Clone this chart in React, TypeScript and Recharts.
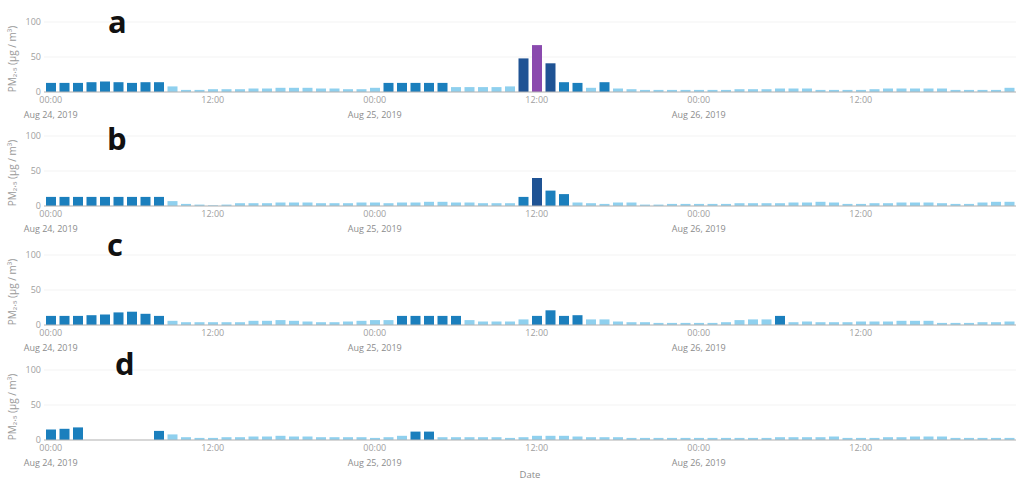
import React from 'react';
import { Bar, BarChart, CartesianGrid, Cell, XAxis, YAxis } from 'recharts';

// hourly categories, Aug 24 00:00 .. Aug 26 23:00
const hours = Array.from({ length: 72 }, (_, i) => i);
const timeLabels = ['00:00', '12:00'];
const dayLabels = ['Aug 24, 2019', 'Aug 25, 2019', 'Aug 26, 2019'];
const yTicks = [0, 50, 100];

const pmA = [
  13, 13, 13, 14, 15, 14, 13, 14, 14, 8, 3, 3, 4, 4, 4, 5, 5, 6, 6, 6, 5, 5, 4, 4,
  6, 13, 13, 13, 13, 13, 7, 7, 7, 7, 8, 48, 67, 41, 14, 13, 6, 14, 5, 4, 3, 3, 3, 3,
  3, 3, 3, 4, 4, 4, 5, 5, 5, 3, 3, 3, 3, 4, 5, 5, 5, 5, 5, 3, 3, 3, 3, 6,
];
const pmB = [
  13, 13, 13, 13, 13, 13, 13, 13, 13, 7, 3, 2, 1, 2, 4, 4, 4, 5, 5, 5, 4, 4, 4, 5,
  5, 4, 5, 5, 6, 6, 5, 5, 4, 4, 4, 13, 40, 22, 17, 5, 4, 3, 5, 5, 2, 2, 3, 3,
  3, 3, 3, 4, 4, 4, 4, 5, 5, 6, 5, 3, 3, 4, 4, 5, 5, 5, 4, 3, 3, 5, 6, 6,
];
const pmC = [
  13, 13, 13, 14, 15, 18, 19, 16, 13, 6, 4, 4, 4, 4, 4, 6, 6, 7, 6, 5, 4, 4, 5, 6,
  7, 7, 13, 13, 13, 13, 13, 7, 5, 5, 5, 8, 13, 21, 13, 14, 8, 8, 5, 4, 4, 3, 3, 3,
  3, 3, 4, 7, 8, 8, 13, 4, 5, 4, 4, 4, 5, 5, 5, 6, 6, 6, 3, 3, 3, 4, 4, 5,
];
const pmD = [
  15, 16, 18, null, null, null, null, null, 13, 8, 4, 3, 3, 4, 4, 5, 5, 6, 5, 5, 4, 4, 4, 4,
  3, 4, 6, 12, 12, 4, 4, 4, 4, 4, 3, 4, 6, 6, 6, 5, 4, 4, 4, 3, 3, 3, 3, 3,
  3, 3, 3, 3, 3, 3, 4, 4, 4, 4, 5, 3, 3, 3, 4, 4, 5, 5, 5, 3, 3, 3, 3, 3,
];

const panels = [
  { letter: 'a', values: pmA, top: 12, lx: 108, ly: 33 },
  { letter: 'b', values: pmB, top: 126, lx: 107, ly: 150 },
  { letter: 'c', values: pmC, top: 245, lx: 107, ly: 256 },
  { letter: 'd', values: pmD, top: 360, lx: 115, ly: 375 },
];

const FONT = '"Open Sans", "Noto Sans", sans-serif';

function barColor(v: number | null) {
  if (v == null) return 'transparent';
  if (v > 55) return '#8a4aae';
  if (v > 35) return '#1f5394';
  if (v >= 12) return '#1b7fbd';
  return '#8fd0ee';
}

function TimeTick({ x, y, payload }: any) {
  const h = payload.value as number;
  const time = timeLabels[Math.floor(h / 12) % 2];
  const day = h % 24 === 0 ? dayLabels[h / 24] : null;
  return (
    <g transform={`translate(${x},${y})`}>
      <text y={11} textAnchor="middle" fill="#a0a0a0" fontSize={9} fontFamily={FONT}>
        {time}
      </text>
      {day && (
        <text y={26} textAnchor="middle" fill="#8c8c8c" fontSize={9} fontFamily={FONT}>
          {day}
        </text>
      )}
    </g>
  );
}

function YLabel({ viewBox }: any) {
  const cy = viewBox.y + viewBox.height / 2 + 2;
  return (
    <text
      transform={`translate(12,${cy}) rotate(-90)`}
      textAnchor="middle"
      dominantBaseline="central"
      fill="#9a9a9a"
      fontSize={10}
      fontFamily={FONT}
    >
      PM₂.₅ (μg / m³)
    </text>
  );
}

function Panel({ values, top }: { values: (number | null)[]; top: number }) {
  const data = hours.map((h, i) => ({ hour: h, pm: values[i] }));
  return (
    <div style={{ position: 'absolute', left: 0, top }}>
      <BarChart width={1016} height={115} data={data} margin={{ top: 10, right: 0, left: 0, bottom: 0 }}>
        <CartesianGrid vertical={false} stroke="#f3f3f3" />
        <XAxis
          dataKey="hour"
          interval={11}
          tickLine={false}
          tickSize={0}
          tickMargin={0}
          height={35}
          stroke="#b5b5b5"
          tick={<TimeTick />}
        />
        <YAxis
          domain={[0, 100]}
          ticks={yTicks}
          width={44}
          axisLine={false}
          tickLine={false}
          tickSize={0}
          tickMargin={3}
          tick={{ fill: '#a0a0a0', fontSize: 9, fontFamily: FONT }}
          label={{ content: <YLabel /> }}
        />
        <Bar dataKey="pm" barSize={10} isAnimationActive={false}>
          {data.map((d, i) => (
            <Cell key={i} fill={barColor(d.pm)} />
          ))}
        </Bar>
      </BarChart>
    </div>
  );
}

export default function App() {
  return (
    <div
      style={{
        position: 'absolute',
        left: 0,
        top: 0,
        width: 1016,
        height: 483,
        background: '#fff',
        overflow: 'hidden',
      }}
    >
      {panels.map((p) => (
        <Panel key={p.letter} values={p.values} top={p.top} />
      ))}
      <svg width={1016} height={483} style={{ position: 'absolute', left: 0, top: 0, pointerEvents: 'none' }}>
        {panels.map((p) => (
          <text key={p.letter} x={p.lx} y={p.ly} fontSize={31} fontWeight="bold" fill="#111" fontFamily={FONT}>
            {p.letter}
          </text>
        ))}
        <text x={530} y={478} textAnchor="middle" fill="#8c8c8c" fontSize={9.5} fontFamily={FONT}>
          Date
        </text>
      </svg>
    </div>
  );
}
